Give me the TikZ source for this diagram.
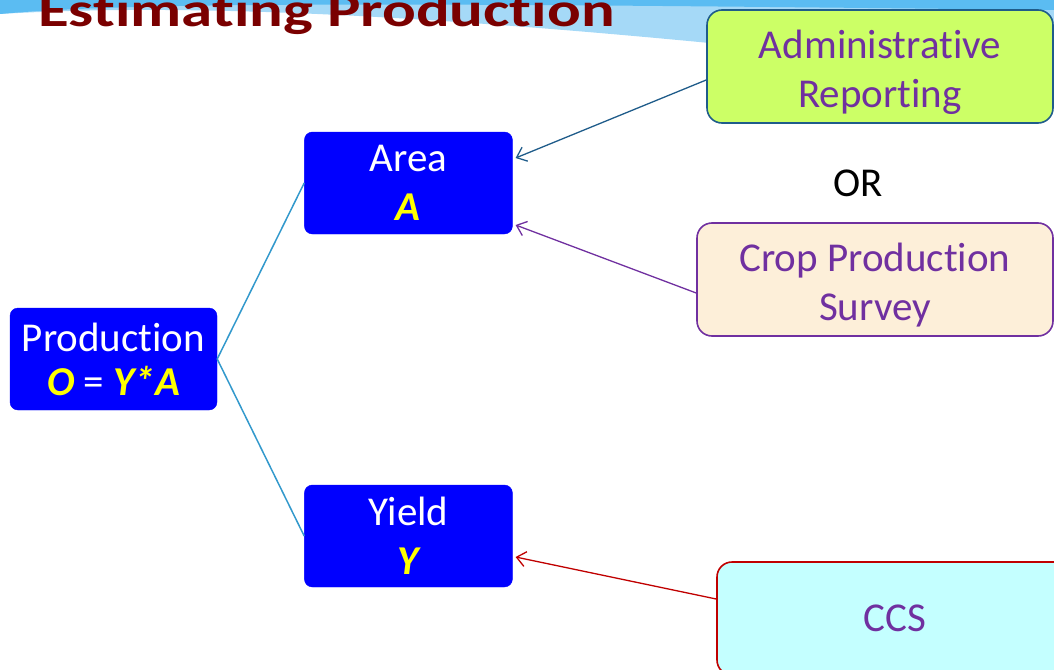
\documentclass[tikz,border=0pt]{standalone}
\usepackage{fontspec}
\setmainfont{Carlito}[Ligatures=NoCommon]
\usetikzlibrary{positioning,arrows.meta,calc}
\definecolor{boxblue}{RGB}{0,0,255}
\definecolor{varyel}{RGB}{255,255,0}
\definecolor{ttlred}{RGB}{122,0,0}
\definecolor{srcpurple}{RGB}{112,48,160}
\definecolor{admfill}{RGB}{204,255,102}
\definecolor{admline}{RGB}{31,92,138}
\definecolor{cpsfill}{RGB}{253,239,217}
\definecolor{ccsfill}{RGB}{196,255,255}
\definecolor{ccsline}{RGB}{192,0,0}
\definecolor{twigblue}{RGB}{51,153,204}
\definecolor{skyblue}{RGB}{91,188,242}
\definecolor{skypale}{RGB}{165,217,247}
\newcommand{\lowstrut}{\rule{0pt}{40pt}}
\tikzset{
  big/.style={font=\fontsize{41}{49}\selectfont},
  bluebox/.style={big,draw=boxblue,fill=boxblue,text=white,rounded corners=8pt,
                  minimum width=207pt,minimum height=102pt,align=center,inner sep=2pt},
  srcbox/.style={big,line width=1.6pt,rounded corners=15pt,minimum width=346pt,minimum height=113pt,
                 align=center,text=srcpurple,inner sep=2pt},
  twig/.style={line width=1.5pt,twigblue},
  feed/.style={-{Straight Barb[length=9pt,width=15pt]},line width=1.3pt},
}

\begin{document}
\begin{tikzpicture}[x=1pt,y=-1pt,
  ttl/.style={font=\fontsize{48}{56}\selectfont\bfseries,text=ttlred,inner sep=0pt}]

\useasboundingbox (0,0) rectangle (1054,669);
\clip (0,0) rectangle (1054,669);

% header swoosh
\fill[skypale] (0,0) -- (0,14) .. controls (200,2) and (450,18) .. (720,44)
  -- (1054,62) -- (1054,0) -- cycle;
\fill[skyblue] (0,0) -- (0,14) .. controls (150,0) and (500,4) .. (1054,10)
  -- (1054,0) -- cycle;
\node[ttl,anchor=base west] (title) at (38,27) {\scalebox{1.31}[1]{Estimating Production}};

% tree
\node[bluebox] (prod) at (113.5,359)
  {Production\\[-5pt]{\textcolor{varyel}{\bfseries\itshape O}} = {\textcolor{varyel}{\bfseries\itshape Y*A}}};
\node[bluebox,minimum width=208pt,right=87pt of prod,yshift=176pt] (area)
  {Area\\[0pt]\textcolor{varyel}{\bfseries\itshape A}};
\node[bluebox,minimum width=208pt,right=87pt of prod,yshift=-177pt] (yield)
  {Yield\\[0pt]\textcolor{varyel}{\bfseries\itshape Y}};

\draw[twig] (prod.east) -- (area.west);
\draw[twig] (prod.east) -- (yield.west);

% sources
\node[srcbox,draw=admline,fill=admfill] (adm) at (880,66.5) {\lowstrut Administrative\\Reporting};
\node[big,anchor=base] (or) at (858,196) {OR};
\node[srcbox,draw=srcpurple,fill=cpsfill,minimum width=356pt] (cps) at (875,279.5)
  {\lowstrut Crop Production\\Survey};
\node[srcbox,draw=ccsline,fill=ccsfill,minimum width=356pt] (ccs) at (895,618.5) {CCS};

\draw[feed,admline] ([yshift=-13.5pt]adm.west) -- ([xshift=3pt,yshift=25pt]area.east);
\draw[feed,srcpurple] ([yshift=-13.5pt]cps.west) -- ([xshift=3pt,yshift=-42pt]area.east);
\draw[feed,ccsline] ([yshift=19.5pt]ccs.west) -- ([xshift=3pt,yshift=-21pt]yield.east);

\end{tikzpicture}
\end{document}
